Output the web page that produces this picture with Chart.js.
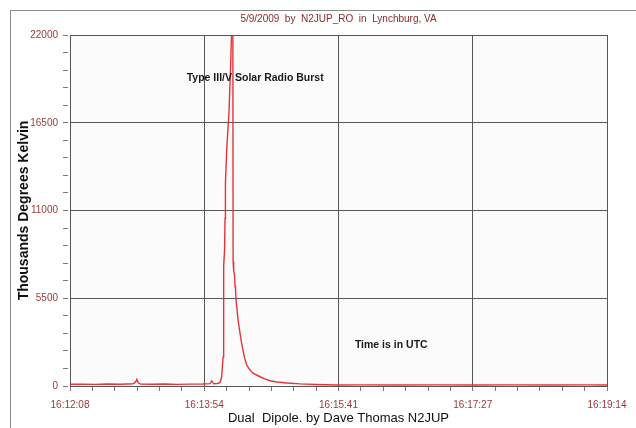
<!DOCTYPE html>
<html>
<head>
<meta charset="utf-8">
<script src="https://cdn.jsdelivr.net/npm/chart.js@4.4.1/dist/chart.umd.min.js"></script>
<style>
  html, body { margin: 0; padding: 0; background: #fff; }
  #wrap { width: 636px; height: 428px; }
</style>
</head>
<body>
<div id="wrap"><canvas id="c" width="636" height="428"></canvas></div>
<script>
// recording 5/9/2009, seconds after 16:12:08 UTC
var chartTitle = '5/9/2009  by  N2JUP_RO  in  Lynchburg, VA';
var xTitle = 'Dual  Dipole. by Dave Thomas N2JUP';
var yTitle = 'Thousands Degrees Kelvin';

var xTickLabels = ['16:12:08', '16:13:54', '16:15:41', '16:17:27', '16:19:14'];
var xSpan = 426;
var yTickLabels = [0, 5500, 11000, 16500, 22000];

var elapsed = [0, 10, 20, 30, 40, 50, 52, 53, 54, 56, 65, 75, 85, 95, 105, 111, 112.5, 114, 117, 119,
    120.3, 121.0, 121.5, 121.8, 122.0, 122.6, 123.0, 123.3, 124.3, 125.2, 126.1, 127.5, 128.1, 128.8,
    129.2, 129.4, 129.6, 130.1, 130.5, 130.9, 131.3, 131.7, 132.5, 133.3, 134.9, 136.0, 137.2, 138.7,
    140.2, 142.8, 145.2, 150.7, 155, 158.7, 164.2, 172, 182.5, 195, 212, 230, 260, 290, 320, 350, 380, 410, 426];
var kelvin = [110, 120, 100, 130, 110, 140, 250, 420, 200, 120, 110, 130, 100, 120, 130, 150, 320, 140, 160, 220,
    560, 1300, 1820, 5000, 7500, 8500, 10500, 12700, 14800, 16000, 17100, 20250, 22000, 23500,
    22500, 7800, 7500, 7200, 7000, 6300, 6100, 5400, 4800, 4150, 3300, 2750, 2250, 1700,
    1300, 1000, 800, 580, 430, 330, 250, 190, 130, 90, 60, 70, 60, 70, 60, 70, 60, 70, 60];

var notes = [
    { text: 'Type III/V Solar Radio Burst', t: 92.6, v: 19300 },
    { text: 'Time is in UTC', t: 226, v: 2570 }
];

var points = [];
for (var i = 0; i < elapsed.length; i++) {
    points.push({ x: elapsed[i], y: kelvin[i] });
}

var tickFont = { family: '"Liberation Sans Narrow", "Liberation Sans", Arial, sans-serif', size: 10 };
var tickRed = '#9b3838';

var framePlugin = {
    id: 'frame',
    beforeDraw: function (chart) {
        var ctx = chart.ctx, a = chart.chartArea;
        ctx.save();
        ctx.fillStyle = '#ffffff';
        ctx.fillRect(0, 0, chart.width, chart.height);
        ctx.fillStyle = '#fbfbfc';
        ctx.fillRect(a.left, a.top, a.right - a.left, a.bottom - a.top);
        ctx.strokeStyle = '#8a8a8a';
        ctx.lineWidth = 1;
        ctx.beginPath();
        ctx.moveTo(10.5, chart.height);
        ctx.lineTo(10.5, 10.5);
        ctx.lineTo(chart.width, 10.5);
        ctx.stroke();
        ctx.restore();
    },
    afterDraw: function (chart) {
        var ctx = chart.ctx, a = chart.chartArea;
        var xs = chart.scales.x, ys = chart.scales.y;
        ctx.save();
        ctx.fillStyle = '#8a2a2a';
        ctx.font = '10px "Liberation Sans", Arial, sans-serif';
        ctx.textAlign = 'center';
        ctx.textBaseline = 'middle';
        ctx.fillText(chartTitle, (a.left + a.right) / 2, 19);

        ctx.fillStyle = '#1a1a1a';
        ctx.font = 'bold 10.5px "Liberation Sans", Arial, sans-serif';
        ctx.textAlign = 'left';
        notes.forEach(function (n) {
            ctx.fillText(n.text, xs.getPixelForValue(n.t), ys.getPixelForValue(n.v));
        });
        ctx.restore();
    }
};

new Chart(document.getElementById('c').getContext('2d'), {
    type: 'line',
    data: {
        datasets: [{
            data: points,
            borderColor: '#e5333a',
            borderWidth: 1.4,
            pointRadius: 0,
            tension: 0,
            fill: false
        }]
    },
    options: {
        responsive: false,
        animation: false,
        layout: { padding: { top: 35, right: 29, left: 0, bottom: 0 } },
        plugins: {
            legend: { display: false },
            tooltip: { enabled: false }
        },
        scales: {
            x: {
                type: 'linear',
                min: 0,
                max: xSpan,
                afterBuildTicks: function (s) {
                    var t = [];
                    for (var i = 0; i <= 24; i++) t.push({ value: i * xSpan / 24 });
                    s.ticks = t;
                },
                afterFit: function (s) { s.height = 42; },
                grid: {
                    color: function (c) { return c.index % 6 === 0 ? '#565656' : 'rgba(0,0,0,0)'; },
                    lineWidth: 1,
                    tickColor: '#7a7a7a',
                    tickLength: 11,
                    tickBorderDash: [4, 100]
                },
                border: { color: '#565656' },
                ticks: {
                    autoSkip: false,
                    maxRotation: 0,
                    padding: 2,
                    color: tickRed,
                    font: tickFont,
                    callback: function (v, i) { return i % 6 === 0 ? xTickLabels[i / 6] : ''; }
                },
                title: {
                    display: true,
                    text: xTitle,
                    color: '#111',
                    font: { family: '"Liberation Sans", Arial, sans-serif', size: 13 },
                    padding: { top: 0, bottom: 2 }
                }
            },
            y: {
                min: 0,
                max: 22000,
                afterBuildTicks: function (s) {
                    var t = [];
                    for (var i = 0; i <= 20; i++) t.push({ value: i * 1100 });
                    s.ticks = t;
                },
                afterFit: function (s) { s.width = 70; },
                grid: {
                    color: function (c) { return c.index % 5 === 0 ? '#565656' : 'rgba(0,0,0,0)'; },
                    lineWidth: 1,
                    tickColor: '#7a7a7a',
                    tickLength: 7,
                    tickBorderDash: [5, 100]
                },
                border: { color: '#565656' },
                ticks: {
                    autoSkip: false,
                    padding: 5,
                    color: tickRed,
                    font: tickFont,
                    callback: function (v, i) { return i % 5 === 0 ? String(yTickLabels[i / 5]) : ''; }
                },
                title: {
                    display: true,
                    text: yTitle,
                    color: '#111',
                    font: { family: '"Liberation Sans", Arial, sans-serif', size: 14, weight: 'bold' },
                    padding: { top: 16, bottom: 0 }
                }
            }
        }
    },
    plugins: [framePlugin]
});
</script>
</body>
</html>
